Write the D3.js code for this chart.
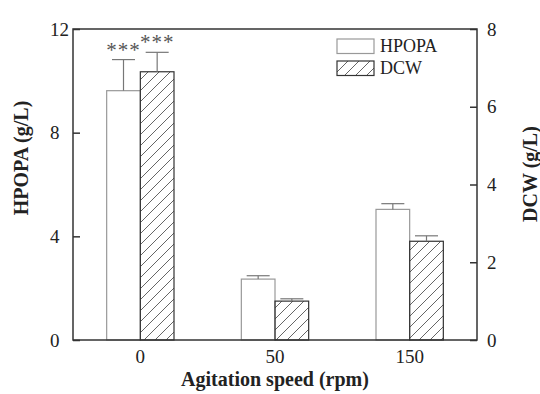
<!DOCTYPE html>
<meta charset="utf-8">
<script src="https://d3js.org/d3.v7.min.js"></script>
<style>
  body { margin: 0; background: #fff; }
  text { font-family: "Liberation Serif", "Times New Roman", serif; fill: #222; }
  .tick-label { font-size: 19px; }
  .title { font-size: 20px; font-weight: bold; }
  .frame { stroke: #333; stroke-width: 1.5px; fill: none; }
</style>
<body></body>
<script>

// data
var speeds = ["0", "50", "150"];
var series = ["HPOPA", "DCW"];
var hpopa = [9.62, 2.35, 5.04];
var hpopaErr = [1.2, 0.13, 0.22];
var dcw = [6.9, 1.0, 2.54];
var dcwErr = [0.5, 0.06, 0.14];
var signif = ["***", "", ""];
var leftTicks = [0, 4, 8, 12];
var rightTicks = [0, 2, 4, 6, 8];

var width = 540,
    height = 394;
var m = {left: 73, right: 477, top: 29, bottom: 340};

var svg = d3.select("body").append("svg")
    .attr("width", width)
    .attr("height", height);

// hatch pattern for DCW
var defs = svg.append("defs");
defs.append("pattern")
    .attr("id", "hatch")
    .attr("patternUnits", "userSpaceOnUse")
    .attr("width", 11).attr("height", 11)
  .append("path")
    .attr("d", "M0,11 L11,0 M-2,2 L2,-2 M9,13 L13,9")
    .attr("stroke", "#555")
    .attr("stroke-width", 0.9);

var x = d3.scaleBand().domain(speeds).range([m.left, m.right])
    .paddingInner(0.5).paddingOuter(0.25);
var xs = d3.scaleBand().domain(series).range([0, x.bandwidth()]);
var yL = d3.scaleLinear().domain([0, 12]).range([m.bottom, m.top]);
var yR = d3.scaleLinear().domain([0, 8]).range([m.bottom, m.top]);

var rows = speeds.map(function(s, i) {
  return [
    {cat: s, key: "HPOPA", v: hpopa[i], e: hpopaErr[i], y: yL, star: signif[i]},
    {cat: s, key: "DCW", v: dcw[i], e: dcwErr[i], y: yR, star: signif[i]}
  ];
}).flat();

// bars
svg.selectAll("rect.bar").data(rows).enter().append("rect")
    .attr("class", "bar")
    .attr("x", function(d) { return x(d.cat) + xs(d.key); })
    .attr("width", xs.bandwidth())
    .attr("y", function(d) { return d.y(d.v); })
    .attr("height", function(d) { return m.bottom - d.y(d.v); })
    .attr("fill", function(d) { return d.key == "DCW" ? "url(#hatch)" : "#fff"; })
    .attr("stroke", function(d) { return d.key == "DCW" ? "#333" : "#999"; })
    .attr("stroke-width", 1.2);

// error bars (upper only)
var capW = 23;
var eb = svg.selectAll("g.err").data(rows).enter().append("g")
    .attr("class", "err")
    .attr("transform", function(d) { return "translate(" + (x(d.cat) + xs(d.key) + xs.bandwidth() / 2) + ",0)"; });
eb.append("line")
    .attr("x1", 0).attr("x2", 0)
    .attr("y1", function(d) { return d.y(d.v); })
    .attr("y2", function(d) { return d.y(d.v + d.e); })
    .attr("stroke", "#777").attr("stroke-width", 1.2);
eb.append("line")
    .attr("x1", -capW / 2).attr("x2", capW / 2)
    .attr("y1", function(d) { return d.y(d.v + d.e); })
    .attr("y2", function(d) { return d.y(d.v + d.e); })
    .attr("stroke", "#777").attr("stroke-width", 1.2);
eb.append("text")
    .attr("text-anchor", "middle")
    .attr("y", function(d) { return d.y(d.v + d.e) - 3; })
    .style("font-size", "21px")
    .style("letter-spacing", "1px")
    .style("fill", "#555")
    .text(function(d) { return d.star; });

// frame
svg.append("rect").attr("class", "frame")
    .attr("x", m.left).attr("y", m.top)
    .attr("width", m.right - m.left).attr("height", m.bottom - m.top);

// left axis (inward ticks, labels left aligned)
var gl = svg.append("g").attr("transform", "translate(" + m.left + ",0)")
    .call(d3.axisRight(yL).tickValues(leftTicks).tickSize(7).tickFormat(""));
gl.select(".domain").remove();
gl.selectAll("line").attr("stroke", "#333").attr("stroke-width", 1.5);
svg.selectAll("text.yl").data(leftTicks).enter().append("text")
    .attr("class", "tick-label yl")
    .attr("x", 50).attr("y", function(d) { return yL(d); })
    .attr("dy", "0.35em")
    .text(function(d) { return d; });

// right axis
var gr = svg.append("g").attr("transform", "translate(" + m.right + ",0)")
    .call(d3.axisLeft(yR).tickValues(rightTicks).tickSize(7).tickFormat(""));
gr.select(".domain").remove();
gr.selectAll("line").attr("stroke", "#333").attr("stroke-width", 1.5);
svg.selectAll("text.yr").data(rightTicks).enter().append("text")
    .attr("class", "tick-label yr")
    .attr("x", 487).attr("y", function(d) { return yR(d); })
    .attr("dy", "0.35em")
    .text(function(d) { return d; });

// bottom category labels
svg.selectAll("text.xl").data(speeds).enter().append("text")
    .attr("class", "tick-label xl")
    .attr("text-anchor", "middle")
    .attr("x", function(d) { return x(d) + x.bandwidth() / 2; })
    .attr("y", 363)
    .text(function(d) { return d; });

// titles
svg.append("text").attr("class", "title")
    .attr("text-anchor", "middle")
    .attr("x", (m.left + m.right) / 2).attr("y", 386)
    .text("Agitation speed (rpm)");
svg.append("text").attr("class", "title")
    .attr("text-anchor", "middle")
    .attr("transform", "translate(28,158) rotate(-90)")
    .text("HPOPA (g/L)");
svg.append("text").attr("class", "title")
    .attr("text-anchor", "middle")
    .attr("transform", "translate(537,174) rotate(-90)")
    .text("DCW (g/L)");

// legend
var lg = svg.selectAll("g.legend").data(series).enter().append("g")
    .attr("class", "legend")
    .attr("transform", function(d, i) { return "translate(337," + (39 + i * 22) + ")"; });
lg.append("rect")
    .attr("width", 37).attr("height", 14.5)
    .attr("fill", function(d) { return d == "DCW" ? "url(#hatch)" : "#fff"; })
    .attr("stroke", function(d) { return d == "DCW" ? "#333" : "#999"; })
    .attr("stroke-width", 1.2);
lg.append("text")
    .attr("x", 43).attr("y", 13)
    .style("font-size", "18px")
    .text(function(d) { return d; });

</script>
